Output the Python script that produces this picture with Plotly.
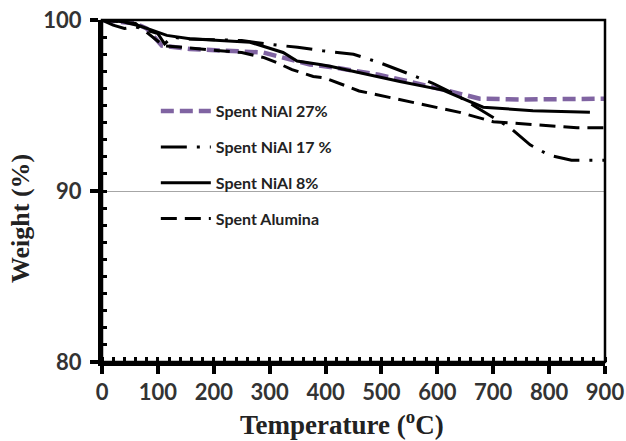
import plotly.graph_objects as go

# Data
t27 = [0, 30, 60, 80, 107, 157, 229, 288, 336, 372, 420, 495, 550, 600, 640, 676, 750, 900]
w27 = [100, 99.9, 99.8, 99.5, 98.5, 98.3, 98.2, 98.1, 97.7, 97.4, 97.2, 96.8, 96.4, 96.0, 95.65, 95.4, 95.35, 95.4]

t17 = [0, 20, 40, 60, 100, 112, 125, 150, 250, 295, 350, 395, 450, 497, 545, 592, 635, 690, 730, 766, 800, 840, 900]
w17 = [100, 99.7, 99.5, 99.6, 99.2, 98.6, 99.0, 98.9, 98.8, 98.6, 98.4, 98.2, 98.0, 97.5, 96.9, 96.3, 95.6, 94.5, 93.7, 92.7, 92.1, 91.8, 91.8]

t8 = [0, 38, 68, 116, 157, 265, 324, 349, 390, 408, 533, 610, 682, 771, 873]
w8 = [100, 99.9, 99.65, 99.1, 98.9, 98.7, 98.1, 97.6, 97.4, 97.3, 96.4, 95.9, 94.9, 94.7, 94.6]

tA = [0, 30, 60, 110, 140, 211, 250, 290, 313, 340, 378, 400, 460, 570, 640, 700, 770, 850, 900]
wA = [100, 99.9, 99.8, 98.5, 98.4, 98.2, 98.1, 97.8, 97.5, 97.1, 96.7, 96.6, 95.85, 95.1, 94.6, 94.05, 93.9, 93.7, 93.7]

names = ["Spent NiAl 27%", "Spent NiAl 17 %", "Spent NiAl 8%", "Spent Alumina"]
x_title = "Temperature (<sup>o</sup>C)"
y_title = "Weight (%)"

fig = go.Figure()
fig.add_trace(go.Scatter(x=t27, y=w27, mode="lines", name=names[0], legendgroup="a",
                         line=dict(color="#8064A2", width=4.5, dash="13px,6px")))
fig.add_trace(go.Scatter(x=t17, y=w17, mode="lines", name=names[1], legendgroup="b",
                         line=dict(color="black", width=3, dash="26px,10px,3px,10px")))
fig.add_trace(go.Scatter(x=t8, y=w8, mode="lines", name=names[2], legendgroup="c",
                         line=dict(color="black", width=3)))
fig.add_trace(go.Scatter(x=tA, y=wA, mode="lines", name=names[3], legendgroup="d",
                         line=dict(color="black", width=3, dash="16px,8px")))

tickfont = dict(family="Lato", size=22, color="#333333", weight="bold")
xtitlefont = dict(family="Liberation Serif", size=27, color="#222222", weight="bold")
ytitlefont = dict(family="Liberation Serif", size=26, color="#222222", weight="bold")

fig.update_layout(
    width=626, height=441,
    margin=dict(l=102, r=21, t=20, b=79),
    paper_bgcolor="white", plot_bgcolor="white",
    showlegend=True,
    legend=dict(x=0.107, y=0.783, xanchor="left", yanchor="top",
                bgcolor="rgba(0,0,0,0)", itemwidth=50, tracegroupgap=12,
                font=dict(family="Lato", size=16, color="#222222", weight="bold")),
    xaxis=dict(range=[0, 900], dtick=100, tick0=0, ticks="outside", ticklen=8, tickwidth=4,
               tickcolor="black", showline=True, linewidth=4, linecolor="black",
               showgrid=False, zeroline=False, tickfont=tickfont, automargin=False,
               minor=dict(dtick=20, ticks="inside", ticklen=5, tickwidth=3, tickcolor="black", showgrid=False)),
    yaxis=dict(range=[80, 100], dtick=10, tick0=80, ticks="outside", ticklen=8, tickwidth=4,
               tickcolor="black", showline=True, linewidth=4, linecolor="black",
               showgrid=True, gridcolor="#a6a6a6", gridwidth=1, zeroline=False, tickfont=tickfont,
               automargin=False, ticklabelstandoff=4,
               minor=dict(dtick=1, ticks="inside", ticklen=5, tickwidth=3, tickcolor="black", showgrid=False)),
    shapes=[dict(type="rect", xref="paper", yref="paper", x0=0, x1=1, y0=0, y1=1,
                 line=dict(color="black", width=2.5), layer="above")],
    annotations=[
        dict(text=x_title, xref="paper", yref="paper", x=0.477, y=-0.178,
             xanchor="center", yanchor="middle", showarrow=False, font=xtitlefont),
        dict(text=y_title, xref="paper", yref="paper", x=-0.163, y=0.418, textangle=-90,
             xanchor="center", yanchor="middle", showarrow=False, font=ytitlefont),
    ],
)

fig.write_html("out.html")
